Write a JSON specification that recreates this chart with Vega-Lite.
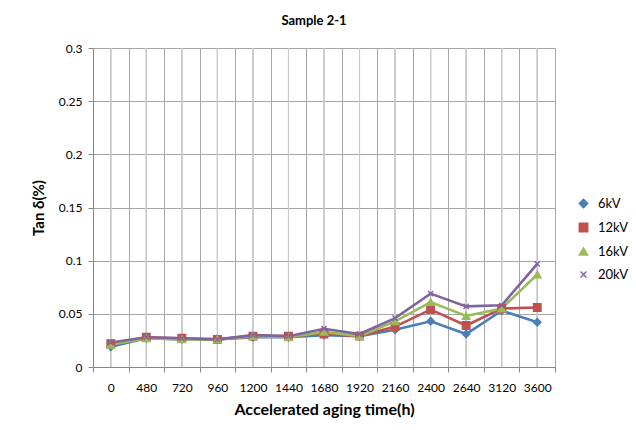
{
  "$schema": "https://vega.github.io/schema/vega-lite/v6.json",
  "width": 462,
  "height": 319,
  "autosize": {"type": "none"},
  "padding": {"left": 93, "top": 48, "right": 81, "bottom": 63},
  "background": "white",
  "title": {"text": "Sample 2-1", "font": "Lato", "fontSize": 13, "fontWeight": "bold", "color": "#000000", "anchor": "middle", "offset": 14, "dx": -10},
  "config": {
    "view": {"stroke": null},
    "font": "Lato",
    "legend": {"title": null, "orient": "none", "legendX": 484, "legendY": 149, "labelFontSize": 13, "labelColor": "#000000", "labelOffset": 8, "rowPadding": 9, "symbolSize": 70, "symbolStrokeWidth": 1.5}
  },
  "data": {"values": [
    {"time": 0, "series": "6kV", "tan": 0.019},
    {"time": 480, "series": "6kV", "tan": 0.027},
    {"time": 720, "series": "6kV", "tan": 0.026},
    {"time": 960, "series": "6kV", "tan": 0.026},
    {"time": 1200, "series": "6kV", "tan": 0.028},
    {"time": 1440, "series": "6kV", "tan": 0.028},
    {"time": 1680, "series": "6kV", "tan": 0.030},
    {"time": 1920, "series": "6kV", "tan": 0.029},
    {"time": 2160, "series": "6kV", "tan": 0.035},
    {"time": 2400, "series": "6kV", "tan": 0.043},
    {"time": 2640, "series": "6kV", "tan": 0.031},
    {"time": 3120, "series": "6kV", "tan": 0.053},
    {"time": 3600, "series": "6kV", "tan": 0.042},
    {"time": 0, "series": "12kV", "tan": 0.022},
    {"time": 480, "series": "12kV", "tan": 0.028},
    {"time": 720, "series": "12kV", "tan": 0.027},
    {"time": 960, "series": "12kV", "tan": 0.026},
    {"time": 1200, "series": "12kV", "tan": 0.029},
    {"time": 1440, "series": "12kV", "tan": 0.029},
    {"time": 1680, "series": "12kV", "tan": 0.031},
    {"time": 1920, "series": "12kV", "tan": 0.029},
    {"time": 2160, "series": "12kV", "tan": 0.038},
    {"time": 2400, "series": "12kV", "tan": 0.054},
    {"time": 2640, "series": "12kV", "tan": 0.039},
    {"time": 3120, "series": "12kV", "tan": 0.055},
    {"time": 3600, "series": "12kV", "tan": 0.056},
    {"time": 0, "series": "16kV", "tan": 0.021},
    {"time": 480, "series": "16kV", "tan": 0.027},
    {"time": 720, "series": "16kV", "tan": 0.026},
    {"time": 960, "series": "16kV", "tan": 0.026},
    {"time": 1200, "series": "16kV", "tan": 0.029},
    {"time": 1440, "series": "16kV", "tan": 0.028},
    {"time": 1680, "series": "16kV", "tan": 0.033},
    {"time": 1920, "series": "16kV", "tan": 0.029},
    {"time": 2160, "series": "16kV", "tan": 0.043},
    {"time": 2400, "series": "16kV", "tan": 0.061},
    {"time": 2640, "series": "16kV", "tan": 0.048},
    {"time": 3120, "series": "16kV", "tan": 0.055},
    {"time": 3600, "series": "16kV", "tan": 0.087},
    {"time": 0, "series": "20kV", "tan": 0.023},
    {"time": 480, "series": "20kV", "tan": 0.028},
    {"time": 720, "series": "20kV", "tan": 0.027},
    {"time": 960, "series": "20kV", "tan": 0.026},
    {"time": 1200, "series": "20kV", "tan": 0.030},
    {"time": 1440, "series": "20kV", "tan": 0.029},
    {"time": 1680, "series": "20kV", "tan": 0.036},
    {"time": 1920, "series": "20kV", "tan": 0.031},
    {"time": 2160, "series": "20kV", "tan": 0.046},
    {"time": 2400, "series": "20kV", "tan": 0.069},
    {"time": 2640, "series": "20kV", "tan": 0.057},
    {"time": 3120, "series": "20kV", "tan": 0.058},
    {"time": 3600, "series": "20kV", "tan": 0.097}
  ]},
  "encoding": {
    "x": {
      "field": "time", "type": "ordinal",
      "scale": {"type": "band", "paddingInner": 0, "paddingOuter": 0},
      "axis": {
        "title": "Accelerated aging time(h)", "titleFontSize": 16, "titleFontWeight": "bold", "titleColor": "#000000", "titlePadding": 8,
        "labelAngle": 0, "labelFontSize": 12, "labelColor": "#000000", "labelPadding": 10,
        "tickBand": "extent", "grid": true, "gridColor": "#a6a6a6", "gridWidth": 1,
        "domainColor": "#868686", "tickColor": "#868686", "tickSize": 5
      }
    },
    "y": {
      "field": "tan", "type": "quantitative",
      "scale": {"domain": [0, 0.3], "nice": false},
      "axis": {
        "title": "Tan δ(%)", "titleFontSize": 15, "titleFontWeight": "bold", "titleColor": "#000000", "titlePadding": 12,
        "values": [0, 0.05, 0.1, 0.15, 0.2, 0.25, 0.3], "format": ".2~f",
        "labelFontSize": 12, "labelColor": "#000000", "labelPadding": 6,
        "grid": true, "gridColor": "#a6a6a6", "domainColor": "#868686", "tickColor": "#868686", "tickSize": 5
      }
    }
  },
  "layer": [
    {
      "mark": {"type": "rule", "color": "#c8c8c8", "strokeWidth": 1},
      "encoding": {"y": null}
    },
    {
      "mark": {"type": "line", "strokeWidth": 2.6},
      "encoding": {
        "color": {"field": "series", "type": "nominal",
          "scale": {"domain": ["6kV", "12kV", "16kV", "20kV"], "range": ["#4a7ebb", "#c0504d", "#9bbb59", "#8064a2"]}}
      }
    },
    {
      "mark": {"type": "point", "filled": true, "size": 55, "strokeWidth": 1.5, "opacity": 1},
      "encoding": {
        "color": {"field": "series", "type": "nominal",
          "scale": {"domain": ["6kV", "12kV", "16kV", "20kV"], "range": ["#4a7ebb", "#c0504d", "#9bbb59", "#8064a2"]}},
        "stroke": {"field": "series", "type": "nominal",
          "scale": {"domain": ["6kV", "12kV", "16kV", "20kV"], "range": ["#4a7ebb", "#c0504d", "#9bbb59", "#8064a2"]}},
        "shape": {"field": "series", "type": "nominal",
          "scale": {"domain": ["6kV", "12kV", "16kV", "20kV"], "range": ["diamond", "square", "triangle-up", "M-0.7,-0.7L0.7,0.7M-0.7,0.7L0.7,-0.7"]}}
      }
    }
  ]
}
